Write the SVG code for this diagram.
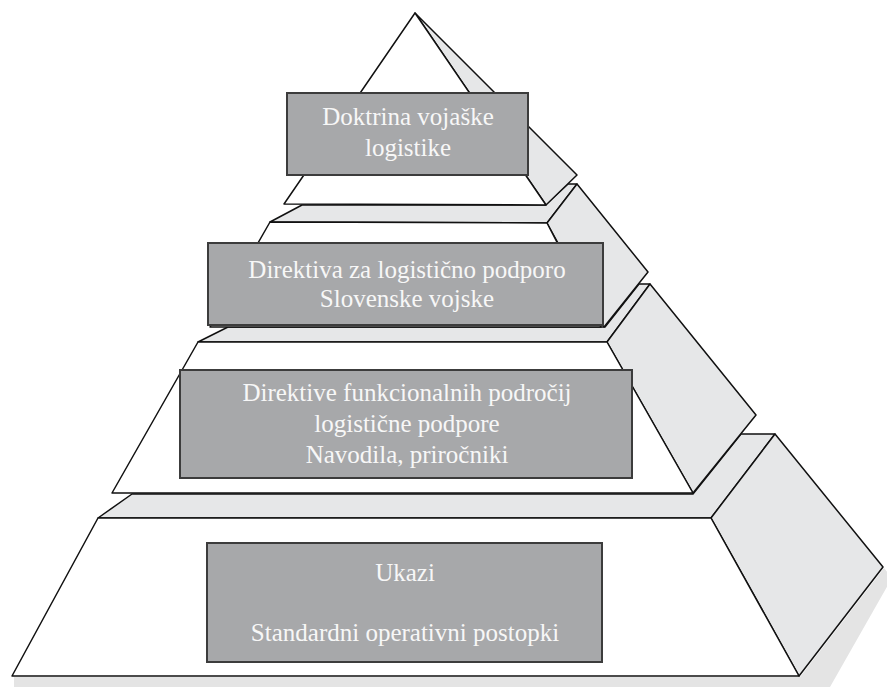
<svg xmlns="http://www.w3.org/2000/svg" width="887" height="687" viewBox="0 0 887 687">
<style>
.face{fill:#ffffff;stroke:#111;stroke-width:1.5;stroke-linejoin:round}
.lite{fill:#e6e7e8;stroke:#111;stroke-width:1.5;stroke-linejoin:round}
.box{fill:#a7a8aa;stroke:#3c3c3c;stroke-width:2}
.lbl{font-family:"Liberation Serif","DejaVu Serif",serif;font-size:25px;fill:#f7f7f7;text-anchor:middle}
.shadow{fill:#e4e4e4}
</style>
<rect width="887" height="687" fill="#ffffff"/>
<polygon class="shadow" points="14,677 800,677 884,568 892,578 830,687 14,687"/>
<g id="tier4">
<polygon class="lite" points="132,494 693,494 741,434 775,434 711,518 98,518"/>
<polygon class="lite" points="775,434 883,567 799,676 711,518"/>
<polygon class="face" points="98,518 711,518 799,676 12,676"/>
<rect class="box" x="207" y="543" width="395" height="119"/>
<text class="lbl" x="405" y="581">Ukazi</text>
<text class="lbl" x="405" y="641">Standardni operativni postopki</text>
</g>
<g id="tier3">
<polygon class="lite" points="228,327 605,327 639,284 650,284 607,342 198,342"/>
<polygon class="lite" points="650,284 756,415 693,493 607,342"/>
<polygon class="face" points="198,342 607,342 693,493 112,493"/>
<rect class="box" x="180" y="370" width="452" height="108"/>
<text class="lbl" x="407" y="401">Direktive funkcionalnih področij</text>
<text class="lbl" x="407" y="432">logistične podpore</text>
<text class="lbl" x="407" y="463">Navodila, priročniki</text>
</g>
<g id="tier2">
<polygon class="lite" points="302,205 545,205 568,184 577,184 547,223 270,222"/>
<polygon class="lite" points="577,184 648,272 604,327 547,223"/>
<polygon class="face" points="270,222 547,223 601,327 210,327"/>
<rect class="box" x="208" y="243" width="395" height="82"/>
<text class="lbl" x="407" y="278">Direktiva za logistično podporo</text>
<text class="lbl" x="407" y="307">Slovenske vojske</text>
</g>
<g id="tier1">
<polygon class="lite" points="415,13 577,175 546,205"/>
<polygon class="face" points="415,13 546,205 284,204"/>
<rect class="box" x="287" y="93" width="241" height="82"/>
<text class="lbl" x="408" y="125">Doktrina vojaške</text>
<text class="lbl" x="408" y="156">logistike</text>
</g>
<g id="connectors"/>
</svg>
